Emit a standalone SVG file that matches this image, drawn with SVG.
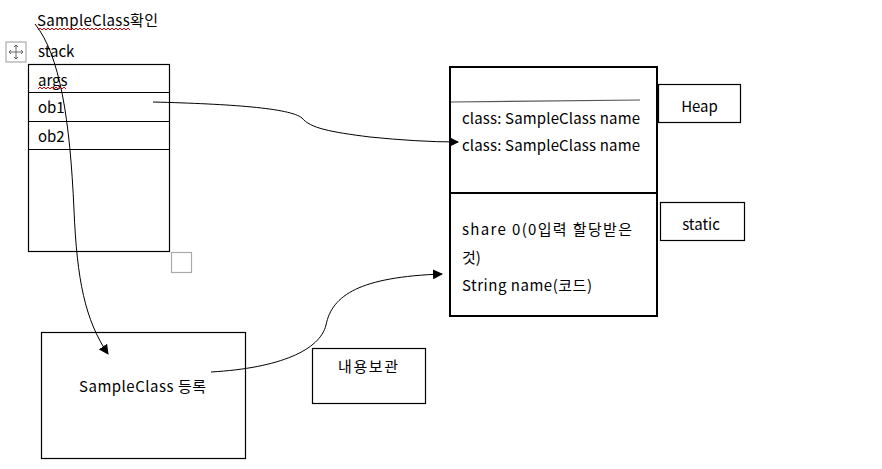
<svg xmlns="http://www.w3.org/2000/svg" width="882" height="469" viewBox="0 0 882 469">
<style>
text{font-family:"Noto Sans CJK KR","Open Sans",sans-serif;font-size:15px;fill:#000}
.b{fill:#fff;stroke:#000;stroke-width:1.2}
.hb{fill:#fff;stroke:#000;stroke-width:2}
.c{fill:none;stroke:#000;stroke-width:1}
.sq{fill:none;stroke:#e00;stroke-width:1}
</style>
<defs>
<marker id="ah" markerWidth="10" markerHeight="10" refX="9" refY="5" orient="auto" markerUnits="userSpaceOnUse">
<path d="M0,0 L10,5 L0,10 Z" fill="#000"/>
</marker>
</defs>
<rect width="882" height="469" fill="#fff"/>
<g id="title">
<text x="37" y="26" textLength="121">SampleClass확인</text>
<path class="sq" d="M38,30 l2,-2 l2,2 l2,-2 l2,2 l2,-2 l2,2 l2,-2 l2,2 l2,-2 l2,2 l2,-2 l2,2 l2,-2 l2,2 l2,-2 l2,2 l2,-2 l2,2 l2,-2 l2,2 l2,-2 l2,2 l2,-2 l2,2 l2,-2 l2,2 l2,-2 l2,2 l2,-2 l2,2 l2,-2 l2,2 l2,-2 l2,2 l2,-2 l2,2 l2,-2 l2,2 l2,-2 l2,2 l2,-2 l2,2 l2,-2 l2,2 l2,-2 l2,2"/>
</g>
<g id="stack">
<rect x="6" y="42" width="20" height="20" fill="#fff" stroke="#999" stroke-width="1"/>
<path d="M16,45 V59 M9,52 H23 M14,47 L16,45 L18,47 M14,57 L16,59 L18,57 M11,50 L9,52 L11,54 M21,50 L23,52 L21,54" fill="none" stroke="#666" stroke-width="1"/>
<text x="38" y="57">stack</text>
<rect class="b" x="28.5" y="64.5" width="141" height="187"/>
<line class="c" x1="28.5" y1="92.5" x2="169.5" y2="92.5"/>
<line class="c" x1="28.5" y1="121.5" x2="169.5" y2="121.5"/>
<line class="c" x1="28.5" y1="149.5" x2="169.5" y2="149.5"/>
<text x="38" y="86">args</text>
<path class="sq" d="M38,89 l2,-2 l2,2 l2,-2 l2,2 l2,-2 l2,2 l2,-2 l2,2 l2,-2 l2,2 l2,-2 l2,2 l2,-2 l2,2"/>
<text x="38" y="113">ob1</text>
<text x="38" y="142">ob2</text>
<rect x="171.5" y="252.5" width="20" height="20" fill="#fff" stroke="#aaa" stroke-width="1.2"/>
</g>
<g id="heap">
<rect class="hb" x="450" y="67" width="207" height="249"/>
<line x1="450" y1="193" x2="657" y2="193" stroke="#000" stroke-width="2"/>
<line x1="451" y1="102" x2="640" y2="100" stroke="#555" stroke-width="1.2"/>
<text x="462" y="124" textLength="178">class: SampleClass name</text>
<text x="462" y="151" textLength="178">class: SampleClass name</text>
<text x="462" y="235" textLength="170">share 0(0입력 할당받은</text>
<text x="462" y="263">것)</text>
<text x="462" y="291" textLength="130">String name(코드)</text>
</g>
<g id="heapLabel">
<rect class="b" x="658.5" y="84.5" width="82" height="38"/>
<text x="699.5" y="112" text-anchor="middle">Heap</text>
</g>
<g id="staticLabel">
<rect class="b" x="660.5" y="202.5" width="84" height="38"/>
<text x="701" y="230" text-anchor="middle">static</text>
</g>
<g id="register">
<rect class="b" x="41.5" y="332.5" width="204" height="126"/>
<text x="79" y="392" textLength="127">SampleClass 등록</text>
</g>
<g id="keep">
<rect class="b" x="312.5" y="348.5" width="113" height="55"/>
<text x="338" y="372" textLength="60">내용보관</text>
</g>
<g id="connectors">
<path class="c" d="M35,24 C60,55 70,120 74,210 C77,280 85,320 108,354" marker-end="url(#ah)"/>
<path class="c" d="M153,102 C230,104 290,108 302,118 C310,128 330,132 370,137 C400,140 430,142 458,142" marker-end="url(#ah)"/>
<path class="c" d="M211,372 C280,368 320,350 326,325 C332,295 360,277 442,274" marker-end="url(#ah)"/>
</g>
</svg>
